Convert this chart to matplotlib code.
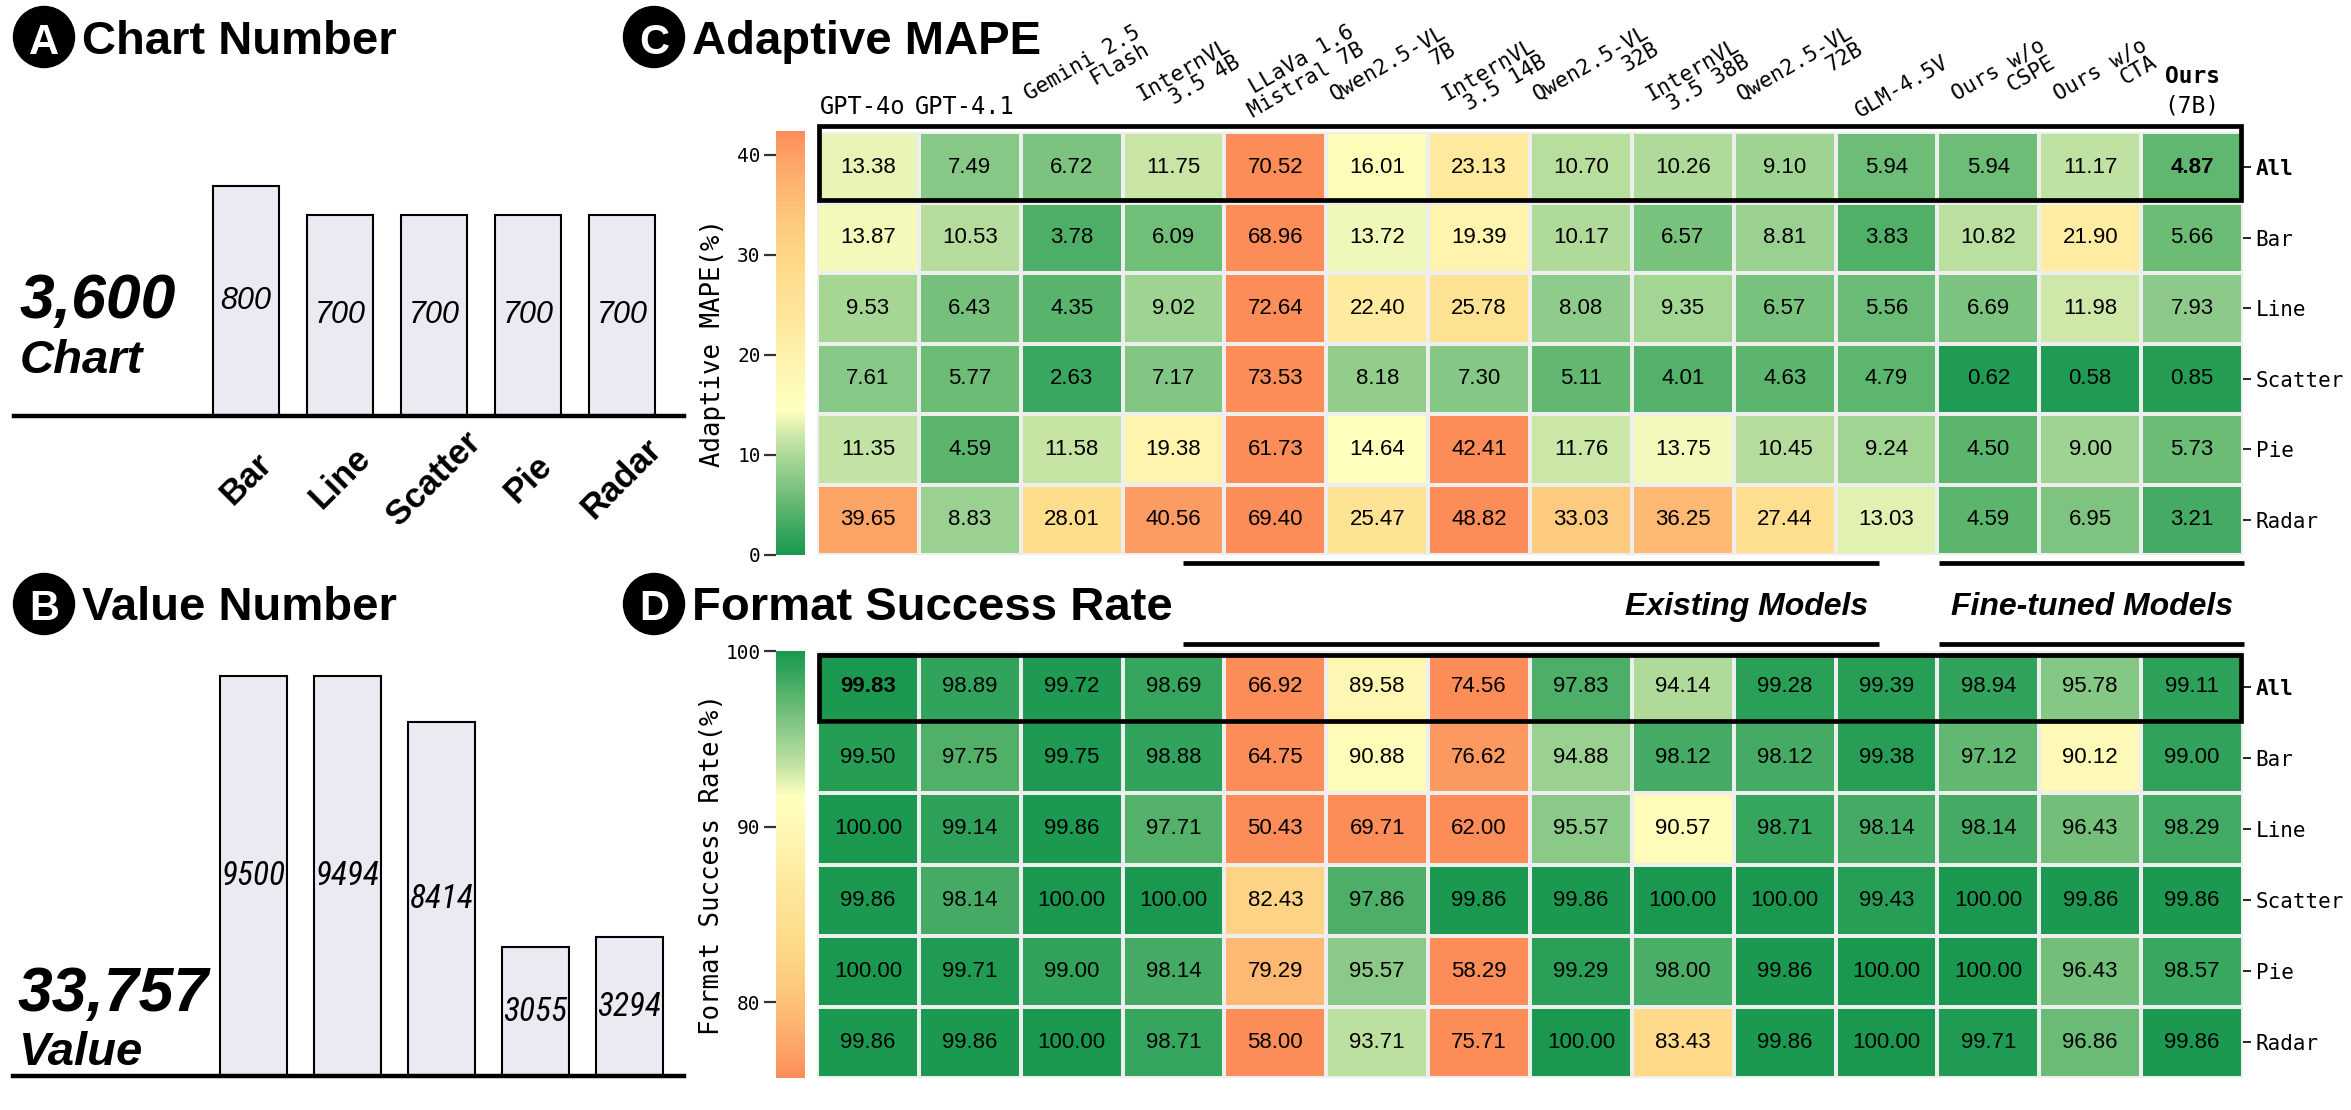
import numpy as np
import matplotlib
matplotlib.use("Agg")
import matplotlib.pyplot as plt
from matplotlib.colors import LinearSegmentedColormap, Normalize
from matplotlib.patches import Rectangle, Ellipse
from matplotlib.lines import Line2D
from matplotlib import font_manager as fm

# ---------------- data ----------------
chart_types = ["Bar", "Line", "Scatter", "Pie", "Radar"]
chart_counts = [800, 700, 700, 700, 700]
value_counts = [9500, 9494, 8414, 3055, 3294]

models = ["GPT-4o", "GPT-4.1", "Gemini 2.5\nFlash", "InternVL\n3.5 4B",
          "LLaVa 1.6\nMistral 7B", "Qwen2.5-VL\n7B", "InternVL\n3.5 14B",
          "Qwen2.5-VL\n32B", "InternVL\n3.5 38B", "Qwen2.5-VL\n72B", "GLM-4.5V",
          "Ours w/o\nCSPE", "Ours w/o\nCTA", "Ours\n(7B)"]
row_labels = ["All", "Bar", "Line", "Scatter", "Pie", "Radar"]

mape_all = [13.38, 7.49, 6.72, 11.75, 70.52, 16.01, 23.13, 10.70, 10.26, 9.10, 5.94, 5.94, 11.17, 4.87]
mape_bar = [13.87, 10.53, 3.78, 6.09, 68.96, 13.72, 19.39, 10.17, 6.57, 8.81, 3.83, 10.82, 21.90, 5.66]
mape_line = [9.53, 6.43, 4.35, 9.02, 72.64, 22.40, 25.78, 8.08, 9.35, 6.57, 5.56, 6.69, 11.98, 7.93]
mape_scatter = [7.61, 5.77, 2.63, 7.17, 73.53, 8.18, 7.30, 5.11, 4.01, 4.63, 4.79, 0.62, 0.58, 0.85]
mape_pie = [11.35, 4.59, 11.58, 19.38, 61.73, 14.64, 42.41, 11.76, 13.75, 10.45, 9.24, 4.50, 9.00, 5.73]
mape_radar = [39.65, 8.83, 28.01, 40.56, 69.40, 25.47, 48.82, 33.03, 36.25, 27.44, 13.03, 4.59, 6.95, 3.21]

fsr_all = [99.83, 98.89, 99.72, 98.69, 66.92, 89.58, 74.56, 97.83, 94.14, 99.28, 99.39, 98.94, 95.78, 99.11]
fsr_bar = [99.50, 97.75, 99.75, 98.88, 64.75, 90.88, 76.62, 94.88, 98.12, 98.12, 99.38, 97.12, 90.12, 99.00]
fsr_line = [100.00, 99.14, 99.86, 97.71, 50.43, 69.71, 62.00, 95.57, 90.57, 98.71, 98.14, 98.14, 96.43, 98.29]
fsr_scatter = [99.86, 98.14, 100.00, 100.00, 82.43, 97.86, 99.86, 99.86, 100.00, 100.00, 99.43, 100.00, 99.86, 99.86]
fsr_pie = [100.00, 99.71, 99.00, 98.14, 79.29, 95.57, 58.29, 99.29, 98.00, 99.86, 100.00, 100.00, 96.43, 98.57]
fsr_radar = [99.86, 99.86, 100.00, 98.71, 58.00, 93.71, 75.71, 100.00, 83.43, 99.86, 100.00, 99.71, 96.86, 99.86]

mape_range = (0, 42.4)
fsr_range = (75.7, 100)
mape_ticks = [0, 10, 20, 30, 40]
fsr_ticks = [80, 90, 100]

mape = np.array([mape_all, mape_bar, mape_line, mape_scatter, mape_pie, mape_radar])
fsr = np.array([fsr_all, fsr_bar, fsr_line, fsr_scatter, fsr_pie, fsr_radar])

# ---------------- fonts ----------------
def has_font(name):
    try:
        fm.findfont(fm.FontProperties(family=name), fallback_to_default=False)
        return True
    except Exception:
        return False


SANS = 'Liberation Sans' if has_font('Liberation Sans') else 'DejaVu Sans'
NARROW = None
for cand in ['Liberation Sans Narrow', 'Arial Narrow', 'Roboto Condensed',
             'Open Sans Condensed', 'DejaVu Sans Condensed']:
    if has_font(cand):
        NARROW = cand
        break
MONO = 'DejaVu Sans Mono'

# ---------------- figure ----------------
W, H = 2351, 1110
fig = plt.figure(figsize=(W / 100, H / 100), dpi=100)
fig.patch.set_facecolor('white')


def rect(x0, y0, x1, y1):
    return [x0 / W, 1 - y1 / H, (x1 - x0) / W, (y1 - y0) / H]


def ftext(x, y, s, **kw):
    return fig.text(x / W, 1 - y / H, s, **kw)


def fline(x0, x1, y, lw=3.4):
    fig.add_artist(Line2D([x0 / W, x1 / W], [1 - y / H, 1 - y / H],
                          transform=fig.transFigure, color='black', lw=lw,
                          solid_capstyle='butt'))


def badge(cx, cy, letter, title, base):
    fig.add_artist(Ellipse((cx / W, 1 - cy / H), 61 / W, 61 / H,
                           transform=fig.transFigure, color='black'))
    ftext(cx, base, letter, ha='center', va='baseline', color='white',
          fontsize=30, fontweight='bold', family=SANS)
    ftext(cx + 38, base, title, ha='left', va='baseline', color='black',
          fontsize=34, fontweight='bold', family=SANS)


badge(44, 37, 'A', 'Chart Number', 54)
badge(44, 604, 'B', 'Value Number', 620)
badge(654, 37, 'C', 'Adaptive MAPE', 54)
badge(654, 604, 'D', 'Format Success Rate', 620)

bar_face = '#eaeaf2'

# ---------------- Panel A ----------------
axA = fig.add_axes(rect(14, 100, 684, 416))
xA = np.arange(len(chart_types))
axA.bar(xA, chart_counts, width=0.70, color=bar_face, edgecolor='black', linewidth=1.5)
axA.set_xlim(-2.47, 4.66)
axA.set_ylim(0, max(chart_counts) * 316 / 230)
for s in ['top', 'right', 'left']:
    axA.spines[s].set_visible(False)
axA.spines['bottom'].set_linewidth(3.2)
axA.set_yticks([])
axA.set_xticks(xA)
axA.set_xticklabels(chart_types, rotation=45, ha='center', va='center', fontsize=25,
                    fontweight='bold', family=SANS)
axA.tick_params(axis='x', length=0, pad=45)
for i, v in enumerate(chart_counts):
    axA.text(i, v / 2, str(v), ha='center', va='center', fontsize=22,
             style='italic', family=SANS)
axA.patch.set_alpha(0)
ftext(20, 318, f"{sum(chart_counts):,}", ha='left', va='baseline', fontsize=45,
      fontweight='bold', style='italic', family=SANS)
ftext(20, 373, 'Chart', ha='left', va='baseline', fontsize=34,
      fontweight='bold', style='italic', family=SANS)

# ---------------- Panel B ----------------
axB = fig.add_axes(rect(13, 600, 684, 1076))
axB.bar(xA, value_counts, width=0.71, color=bar_face, edgecolor='black', linewidth=1.5)
axB.set_xlim(-2.56, 4.58)
axB.set_ylim(0, max(value_counts) * 476 / 400)
for s in ['top', 'right', 'left']:
    axB.spines[s].set_visible(False)
axB.spines['bottom'].set_linewidth(3.2)
axB.set_yticks([])
axB.set_xticks([])
axB.patch.set_alpha(0)
for i, v in enumerate(value_counts):
    if NARROW:
        axB.text(i, v / 2, str(v), ha='center', va='center', fontsize=24,
                 style='italic', family=NARROW)
    else:
        axB.text(i, v / 2, str(v), ha='center', va='center', fontsize=20.5,
                 style='italic', family=SANS)
ftext(18, 1011, f"{sum(value_counts):,}", ha='left', va='baseline', fontsize=45,
      fontweight='bold', style='italic', family=SANS)
ftext(18, 1065, 'Value', ha='left', va='baseline', fontsize=34,
      fontweight='bold', style='italic', family=SANS)

# ---------------- colormap ----------------
nodes = [(0.00, '#1a9850'), (0.06, '#3ba760'), (0.10, '#57b36b'), (0.14, '#70be78'),
         (0.18, '#8ac988'), (0.22, '#a3d593'), (0.26, '#bde0a0'), (0.30, '#dcefb0'),
         (0.34, '#ffffbf'), (0.45, '#fef5b0'), (0.55, '#fee89c'), (0.66, '#fedd8d'),
         (0.78, '#fdcb7f'), (0.87, '#fdb572'), (0.94, '#fca266'), (1.00, '#fc8d59')]
cmap_g2o = LinearSegmentedColormap.from_list('g2o', nodes)
cmap_o2g = cmap_g2o.reversed()


def heatmap(box, data, cmap, vrange, best, cbar_box, ticks, clabel, lpad, frame):
    ax = fig.add_axes(rect(*box))
    norm = Normalize(vmin=vrange[0], vmax=vrange[1])
    mesh = ax.pcolormesh(data, cmap=cmap, norm=norm, edgecolors='#eeeeee', linewidth=1.5)
    ax.set_xlim(0, data.shape[1])
    ax.set_ylim(data.shape[0], 0)
    for s in ax.spines.values():
        s.set_visible(False)
    ax.set_xticks([])
    ax.yaxis.tick_right()
    ax.set_yticks(np.arange(data.shape[0]) + 0.5)
    ax.set_yticklabels(row_labels, family=MONO, fontsize=15)
    ax.get_yticklabels()[0].set_fontweight('bold')
    ax.tick_params(axis='y', length=6, width=1.2, pad=3)
    for i in range(data.shape[0]):
        for j in range(data.shape[1]):
            fw = 'bold' if (i == 0 and j == best) else 'normal'
            ax.text(j + 0.5, i + 0.5, f"{data[i, j]:.2f}", ha='center', va='center',
                    fontsize=16, family=SANS, fontweight=fw)
    y0, hh = frame
    ax.add_patch(Rectangle((0.015, y0), data.shape[1] - 0.03, hh, fill=False,
                           edgecolor='black', linewidth=3.4, clip_on=False, zorder=5))
    cax = fig.add_axes(rect(*cbar_box))
    cb = fig.colorbar(mesh, cax=cax)
    cb.outline.set_visible(False)
    cax.yaxis.set_ticks_position('left')
    cax.yaxis.set_label_position('left')
    cb.set_ticks(ticks)
    cax.set_yticklabels([str(t) for t in ticks], family=MONO, fontsize=14)
    cax.tick_params(axis='y', length=9, width=1.6, color='#333333', pad=2)
    cb.set_label(clabel, family=MONO, fontsize=18.5, labelpad=lpad)
    return ax


best_mape = int(np.argmin(mape[0]))
best_fsr = int(np.argmax(fsr[0]))

axC = heatmap((817, 132, 2243, 555), mape, cmap_g2o, mape_range, best_mape,
              (776, 131, 805, 555), mape_ticks, 'Adaptive MAPE(%)', 8, (-0.09, 1.05))
axD = heatmap((817, 651, 2243, 1078), fsr, cmap_o2g, fsr_range, best_fsr,
              (776, 651, 805, 1078), fsr_ticks, 'Format Success Rate(%)', 0, (0.05, 0.94))

# model labels on top of panel C
for j, name in enumerate(models):
    x = j + 0.5
    if name.startswith('Ours\n'):
        top, bottom = name.split('\n')
        axC.text(x, 1.035, bottom, transform=axC.get_xaxis_transform(), ha='center',
                 va='bottom', family=MONO, fontsize=16.5)
        axC.text(x, 1.105, top, transform=axC.get_xaxis_transform(), ha='center',
                 va='bottom', family=MONO, fontsize=16.5, fontweight='bold')
    elif len(name) <= 7:
        axC.text(x - 0.05, 1.03, name, transform=axC.get_xaxis_transform(), ha='center',
                 va='bottom', family=MONO, fontsize=17)
    else:
        off = 0.15
        if len(name.split('\n')[0]) < len(name.split('\n')[-1]):
            off = 0.25
        axC.text(x + off, 1.025, name, transform=axC.get_xaxis_transform(), ha='center',
                 va='bottom', family=MONO, fontsize=15.5, rotation=30,
                 multialignment='right', linespacing=1.0)

# group separators
for y in (563, 644):
    fline(1183, 1879, y)
    fline(1939, 2244, y)
ftext(1747, 615, 'Existing Models', ha='center', va='baseline', fontsize=23,
      fontweight='bold', style='italic', family=SANS)
ftext(2092, 615, 'Fine-tuned Models', ha='center', va='baseline', fontsize=23,
      fontweight='bold', style='italic', family=SANS)

fig.savefig('out.png', dpi=100, facecolor='white')
